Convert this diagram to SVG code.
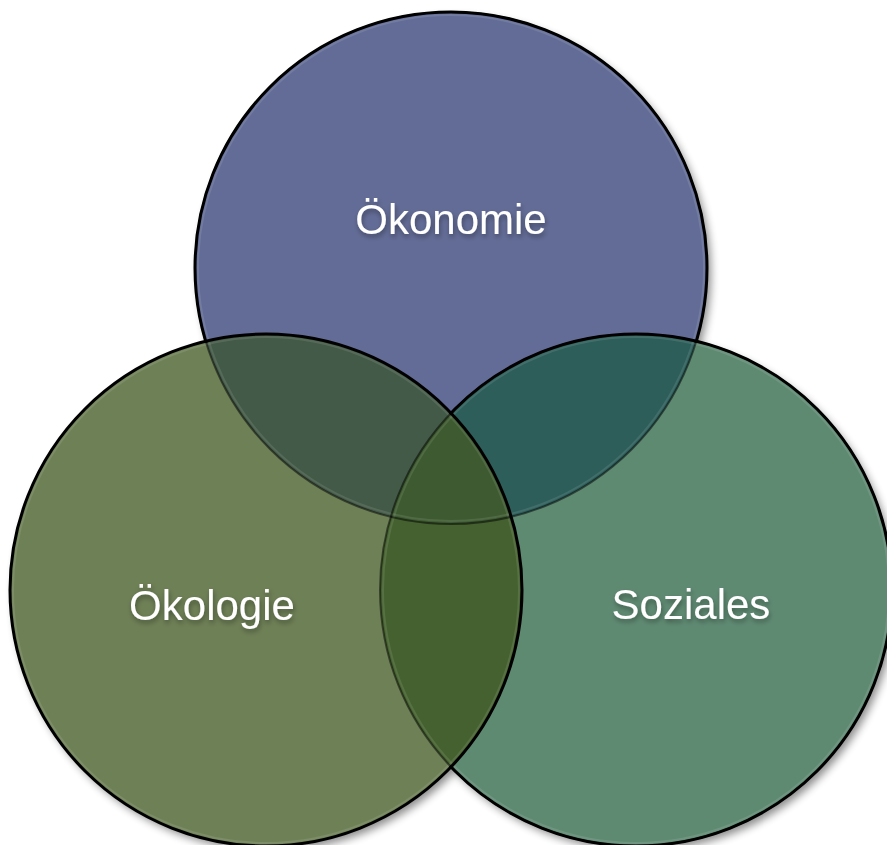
<svg xmlns="http://www.w3.org/2000/svg" width="887" height="845" viewBox="0 0 887 845">
  <defs>
    <style>
      .label { font-family: "Liberation Sans", Arial, sans-serif; font-size: 42px; fill: #ffffff; text-anchor: middle; filter: url(#textShadow); }
      .edge { fill: none; stroke: #000000; stroke-width: 3; }
      .soft { stroke-opacity: 0.5; stroke-width: 2; }
      .bevel { fill: none; stroke: #ffffff; stroke-opacity: 0.1; stroke-width: 2; }
    </style>
    <filter id="dropShadow" x="-10%" y="-10%" width="125%" height="125%">
      <feGaussianBlur in="SourceAlpha" stdDeviation="4"/>
      <feOffset dx="4" dy="5" result="blur"/>
      <feComponentTransfer><feFuncA type="linear" slope="0.45"/></feComponentTransfer>
      <feMerge><feMergeNode/><feMergeNode in="SourceGraphic"/></feMerge>
    </filter>
    <filter id="textShadow" x="-20%" y="-30%" width="140%" height="160%">
      <feGaussianBlur in="SourceAlpha" stdDeviation="2.5"/>
      <feOffset dx="1" dy="3"/>
      <feComponentTransfer><feFuncA type="linear" slope="0.35"/></feComponentTransfer>
      <feMerge><feMergeNode/><feMergeNode in="SourceGraphic"/></feMerge>
    </filter>
    <clipPath id="clipTop"><circle cx="451" cy="268" r="256"/></clipPath>
    <clipPath id="clipLeft"><circle cx="266" cy="590" r="256"/></clipPath>
    <clipPath id="clipRight"><circle cx="636" cy="590" r="256"/></clipPath>
    <!-- regions outside the left circle / outside left and right circles -->
    <mask id="outsideLeft" maskUnits="userSpaceOnUse" x="0" y="0" width="887" height="845">
      <rect width="887" height="845" fill="#fff"/>
      <circle cx="266" cy="590" r="254.5" fill="#000"/>
    </mask>
    <mask id="outsideLeftRight" maskUnits="userSpaceOnUse" x="0" y="0" width="887" height="845">
      <rect width="887" height="845" fill="#fff"/>
      <circle cx="266" cy="590" r="254.5" fill="#000"/>
      <circle cx="636" cy="590" r="254.5" fill="#000"/>
    </mask>
  </defs>

  <rect width="887" height="845" fill="#ffffff"/>

  <!-- base discs with soft drop shadow -->
  <g filter="url(#dropShadow)">
    <g id="oekonomie">
      <circle cx="451" cy="268" r="256" fill="#636c96"/>
    </g>
    <g id="soziales">
      <circle cx="636" cy="590" r="256" fill="#5f8a72"/>
    </g>
    <g id="oekologie">
      <circle cx="266" cy="590" r="256" fill="#6e8057"/>
    </g>
  </g>

  <!-- overlap regions -->
  <g id="overlaps">
    <g clip-path="url(#clipTop)">
      <circle cx="636" cy="590" r="256" fill="#2d5e5a"/>
      <circle cx="266" cy="590" r="256" fill="#445a48"/>
    </g>
    <g clip-path="url(#clipRight)">
      <circle cx="266" cy="590" r="256" fill="#45612f"/>
    </g>
    <g clip-path="url(#clipTop)">
      <g clip-path="url(#clipRight)">
        <circle cx="266" cy="590" r="256" fill="#3d5a30"/>
      </g>
    </g>
  </g>

  <!-- inner bevel highlights -->
  <g id="bevels">
    <circle class="bevel" cx="451" cy="268" r="253"/>
    <circle class="bevel" cx="636" cy="590" r="253"/>
    <circle class="bevel" cx="266" cy="590" r="253"/>
  </g>

  <!-- outlines -->
  <g id="outlines">
    <circle class="edge soft" cx="451" cy="268" r="256"/>
    <circle class="edge soft" cx="636" cy="590" r="256"/>
    <circle class="edge" cx="451" cy="268" r="256" mask="url(#outsideLeftRight)"/>
    <circle class="edge" cx="636" cy="590" r="256" mask="url(#outsideLeft)"/>
    <circle class="edge" cx="266" cy="590" r="256"/>
  </g>

  <!-- labels -->
  <g id="labels">
    <text class="label" x="451" y="234">Ökonomie</text>
    <text class="label" x="212" y="620">Ökologie</text>
    <text class="label" x="691" y="619">Soziales</text>
  </g>
</svg>
